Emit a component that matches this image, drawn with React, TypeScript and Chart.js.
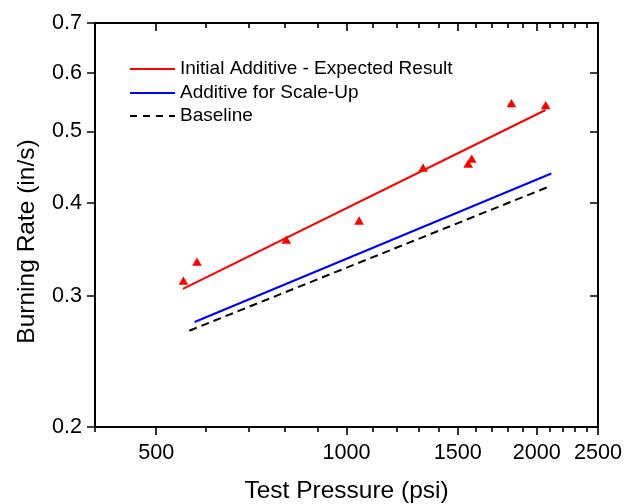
import React, { useEffect, useRef } from "react";
import { Chart, registerables } from "chart.js";

Chart.register(...registerables);

// Measured test points (red triangles)
const pressureTests = [552, 580, 803, 1047, 1322, 1558, 1578, 1824, 2066];
const rateTests = [0.3135, 0.3326, 0.356, 0.3777, 0.4451, 0.4507, 0.4577, 0.5437, 0.5403];

// Fit lines (power law, straight on log-log) – endpoints
const initialFitPressure = [551, 2065];
const initialFitRate = [0.307, 0.5345];
const scaleUpPressure = [575, 2109];
const scaleUpRate = [0.277, 0.439];
const baselinePressure = [564, 2109];
const baselineRate = [0.2696, 0.4227];

const seriesNames = ["Initial Additive - Expected Result", "Additive for Scale-Up", "Baseline"];
const seriesColors = ["#ff0000", "#0000ff", "#000000"];

const xTickValues = [400, 500, 600, 700, 800, 900, 1000, 1100, 1200, 1300, 1400, 1500, 1600, 1700, 1800, 1900, 2000, 2100, 2200, 2300, 2400, 2500];
const xTickLabels = [500, 1000, 1500, 2000, 2500];
const yTickValues = [0.2, 0.3, 0.4, 0.5, 0.6, 0.7];
const yTickLabels = ["0.2", "0.3", "0.4", "0.5", "0.6", "0.7"];

const xTitle = "Test Pressure (psi)";
const yTitle = "Burning Rate (in/s)";

const FONT = '"Liberation Sans", Arial, Helvetica, sans-serif';

const toPoints = (xs: number[], ys: number[]) => xs.map((x, i) => ({ x, y: ys[i] }));

const framePlugin = {
  id: "frameAndDecor",
  afterDraw(chart: any) {
    const { ctx, chartArea } = chart;
    const xs = chart.scales.x;
    const ys = chart.scales.y;
    const { left, right, top, bottom } = chartArea;
    ctx.save();
    ctx.strokeStyle = "#000";
    ctx.lineWidth = 2;
    ctx.strokeRect(left, top, right - left, bottom - top);

    // x ticks (bottom outward, top inward)
    ctx.lineWidth = 1.6;
    ctx.beginPath();
    xTickValues.forEach((v) => {
      const px = Math.round(xs.getPixelForValue(v));
      const len = xTickLabels.includes(v) ? 8 : 5;
      ctx.moveTo(px, bottom);
      ctx.lineTo(px, bottom + len);
      ctx.moveTo(px, top);
      ctx.lineTo(px, top + len);
    });
    // y ticks (left outward, right inward)
    yTickValues.forEach((v) => {
      const py = Math.round(ys.getPixelForValue(v));
      ctx.moveTo(left, py);
      ctx.lineTo(left - 8, py);
      ctx.moveTo(right, py);
      ctx.lineTo(right - 8, py);
    });
    ctx.stroke();

    // Legend (inside plot)
    const lx0 = left + 35;
    const lx1 = left + 80;
    const rows = [top + 46, top + 70, top + 93];
    ctx.font = `19px ${FONT}`;
    ctx.textBaseline = "middle";
    ctx.textAlign = "left";
    rows.forEach((ry, i) => {
      ctx.strokeStyle = seriesColors[i];
      ctx.lineWidth = 2;
      ctx.setLineDash(i === 2 ? [7, 6] : []);
      ctx.beginPath();
      ctx.moveTo(lx0, ry);
      ctx.lineTo(lx1, ry);
      ctx.stroke();
      ctx.setLineDash([]);
      ctx.fillStyle = "#000";
      ctx.fillText(seriesNames[i], lx1 + 5, ry);
    });

    // Axis titles
    ctx.font = `24.5px ${FONT}`;
    ctx.fillStyle = "#000";
    ctx.textAlign = "center";
    ctx.textBaseline = "alphabetic";
    ctx.fillText(xTitle, (left + right) / 2, 498);
    ctx.translate(34, 241.5);
    ctx.rotate(-Math.PI / 2);
    ctx.fillText(yTitle, 0, 0);
    ctx.restore();
  },
};

export default function App() {
  const ref = useRef<HTMLCanvasElement | null>(null);

  useEffect(() => {
    document.body.style.margin = "0";
    const canvas = ref.current;
    if (!canvas) return;
    const chart = new Chart(canvas, {
      type: "scatter",
      data: {
        datasets: [
          {
            label: "Test data",
            data: toPoints(pressureTests, rateTests),
            pointStyle: "triangle",
            pointRadius: 5.6,
            pointBackgroundColor: "#ff0000",
            pointBorderColor: "#ff0000",
            pointBorderWidth: 0,
            showLine: false,
          },
          {
            label: seriesNames[0],
            data: toPoints(initialFitPressure, initialFitRate),
            showLine: true,
            borderColor: seriesColors[0],
            borderWidth: 2,
            pointRadius: 0,
          },
          {
            label: seriesNames[1],
            data: toPoints(scaleUpPressure, scaleUpRate),
            showLine: true,
            borderColor: seriesColors[1],
            borderWidth: 2,
            pointRadius: 0,
          },
          {
            label: seriesNames[2],
            data: toPoints(baselinePressure, baselineRate),
            showLine: true,
            borderColor: seriesColors[2],
            borderWidth: 2,
            borderDash: [8, 5],
            pointRadius: 0,
          },
        ],
      },
      options: {
        animation: false,
        responsive: false,
        devicePixelRatio: 1,
        layout: { padding: { left: 0, right: 28, top: 23, bottom: 0 } },
        plugins: { legend: { display: false }, tooltip: { enabled: false }, title: { display: false } },
        scales: {
          x: {
            type: "logarithmic",
            min: 400,
            max: 2500,
            bounds: "data",
            grid: { display: false, drawTicks: false },
            border: { display: false },
            afterBuildTicks: (s: any) => {
              s.ticks = xTickValues.map((v) => ({ value: v }));
            },
            afterFit: (s: any) => {
              s.height = 77;
              s.paddingLeft = 0;
              s.paddingRight = 0;
            },
            ticks: {
              autoSkip: false,
              maxRotation: 0,
              minRotation: 0,
              padding: 13,
              color: "#000",
              font: { family: FONT, size: 21.6 },
              callback: (v: any) => (xTickLabels.includes(Number(v)) ? String(v) : ""),
            },
          },
          y: {
            type: "logarithmic",
            min: 0.2,
            max: 0.7,
            bounds: "data",
            grid: { display: false, drawTicks: false },
            border: { display: false },
            afterBuildTicks: (s: any) => {
              s.ticks = yTickValues.map((v) => ({ value: v }));
            },
            afterFit: (s: any) => {
              s.width = 95;
              s.paddingTop = 0;
              s.paddingBottom = 0;
            },
            ticks: {
              autoSkip: false,
              padding: 13,
              color: "#000",
              font: { family: FONT, size: 21.6 },
              callback: (v: any) => {
                const i = yTickValues.findIndex((t) => Math.abs(t - Number(v)) < 1e-6);
                return i >= 0 ? yTickLabels[i] : "";
              },
            },
          },
        },
      },
      plugins: [framePlugin],
    } as any);
    return () => chart.destroy();
  }, []);

  return (
    <div style={{ position: "fixed", left: 0, top: 0, width: 626, height: 504, background: "#fff" }}>
      <canvas ref={ref} width={626} height={504} style={{ display: "block", width: 626, height: 504 }} />
    </div>
  );
}
